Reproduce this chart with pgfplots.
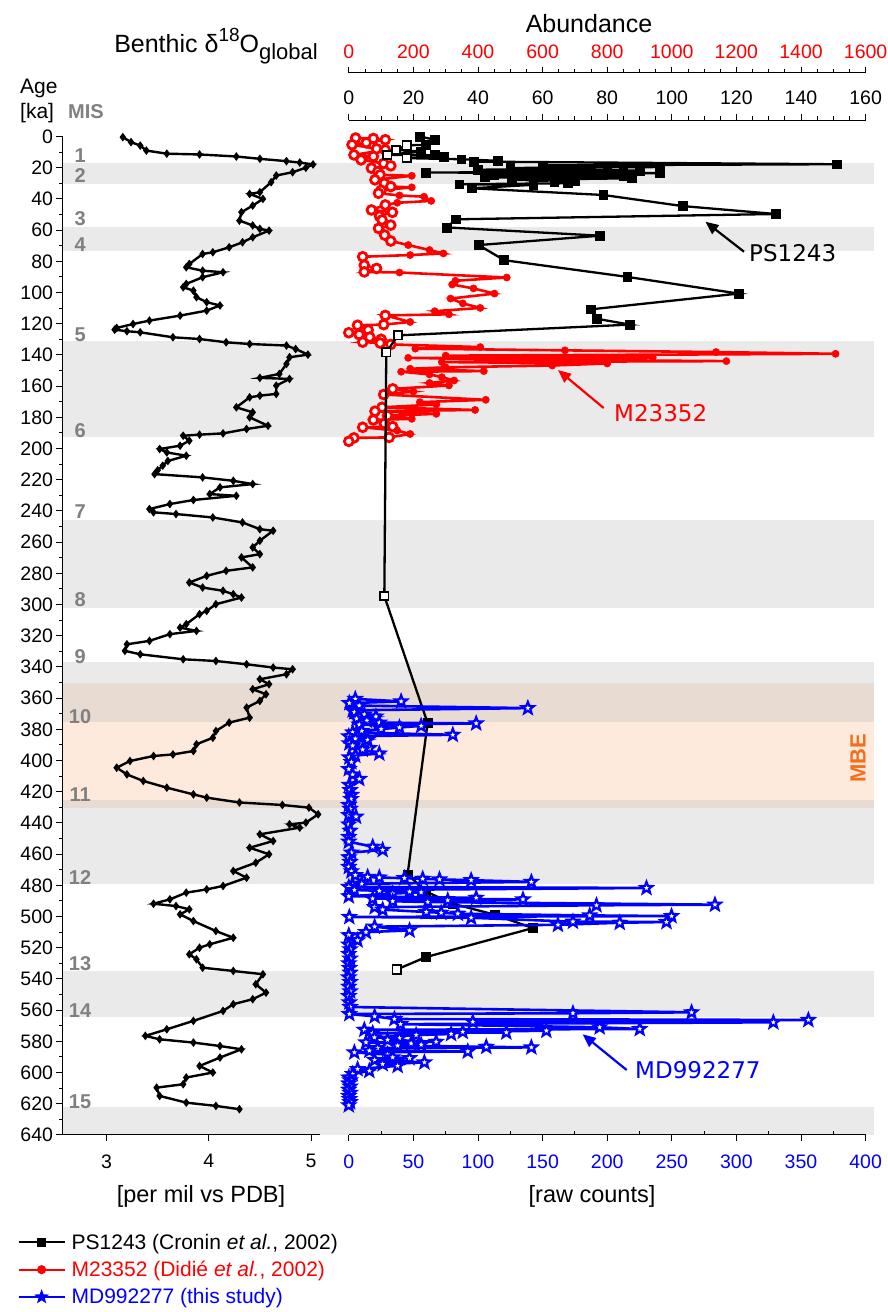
\documentclass[border=0pt]{standalone}
\usepackage{pgfplots}
\pgfplotsset{compat=1.18}
\usepackage{pgfplotstable}
\usepackage{fontspec}
\setmainfont{Liberation Sans}
\newfontfamily\verd{DejaVu Sans}
\usetikzlibrary{arrows.meta}

\definecolor{cred}{RGB}{255,0,0}
\definecolor{cblue}{RGB}{0,0,255}
\definecolor{misgray}{RGB}{128,128,128}
\definecolor{bandgray}{RGB}{234,234,234}
\definecolor{mbe}{RGB}{253,234,221}
\definecolor{mbegray}{RGB}{232,219,210}
\definecolor{mbetext}{RGB}{245,110,25}

\newcommand{\fs}[1]{\fontsize{#1}{#1}\selectfont}

% open five-pointed star
\newdimen\starin
\newdimen\starout
\pgfdeclareplotmark{ostar}{%
  \starout=\pgfplotmarksize
  \starin=0.42\pgfplotmarksize
  \pgfpathmoveto{\pgfpointpolar{90}{\starout}}%
  \pgfpathlineto{\pgfpointpolar{126}{\starin}}%
  \pgfpathlineto{\pgfpointpolar{162}{\starout}}%
  \pgfpathlineto{\pgfpointpolar{198}{\starin}}%
  \pgfpathlineto{\pgfpointpolar{234}{\starout}}%
  \pgfpathlineto{\pgfpointpolar{270}{\starin}}%
  \pgfpathlineto{\pgfpointpolar{306}{\starout}}%
  \pgfpathlineto{\pgfpointpolar{342}{\starin}}%
  \pgfpathlineto{\pgfpointpolar{18}{\starout}}%
  \pgfpathlineto{\pgfpointpolar{54}{\starin}}%
  \pgfpathclose
  \pgfusepathqfillstroke
}

% benthic d18O (LR04-type stack)
\pgfplotstableread{
age d
0.4 3.16
3.6 3.24
5.8 3.33
9.0 3.39
11.0 3.59
11.5 3.91
12.8 4.27
14.3 4.50
15.8 4.76
16.7 4.89
17.9 5.02
20.0 4.95
22.9 4.82
25.0 4.66
29.3 4.61
35.7 4.50
36.8 4.40
40.0 4.53
44.3 4.43
48.5 4.32
53.9 4.30
57.0 4.43
59.2 4.50
60.3 4.59
64.6 4.43
67.8 4.33
71.0 4.20
74.2 4.04
75.3 3.94
81.7 3.81
83.8 3.78
86.0 3.94
87.0 4.14
90.2 3.94
94.5 3.78
96.6 3.75
98.8 3.85
103.0 3.88
106.2 3.98
108.3 4.11
111.6 3.98
114.8 3.72
118.0 3.42
120.2 3.26
122.7 3.10
123.8 3.08
124.8 3.20
125.5 3.33
128.7 3.65
129.8 3.91
131.9 4.17
133.0 4.40
134.0 4.76
136.2 4.85
139.8 4.97
141.5 4.79
145.8 4.76
152.2 4.69
154.7 4.50
155.4 4.79
159.7 4.66
165.0 4.66
166.1 4.50
167.2 4.40
173.6 4.27
176.8 4.43
180.0 4.40
185.4 4.58
187.5 4.37
190.3 4.14
191.1 3.91
191.8 3.75
195.0 3.81
198.2 3.72
200.3 3.52
202.5 3.59
204.6 3.78
208.0 3.60
211.0 3.55
214.0 3.50
216.4 3.47
218.5 3.94
220.7 4.24
222.8 4.43
224.9 4.11
229.2 4.01
230.3 4.27
233.0 3.85
235.6 3.62
238.8 3.42
240.9 3.46
242.0 3.68
244.2 4.04
247.4 4.33
251.7 4.50
252.7 4.63
259.1 4.50
263.4 4.43
267.7 4.50
269.8 4.32
276.2 4.43
278.4 4.17
281.6 3.98
285.9 3.81
289.1 3.94
291.2 4.14
293.4 4.24
295.5 4.32
299.8 4.07
304.1 3.98
306.2 3.91
312.6 3.78
314.8 3.72
316.9 3.88
319.0 3.62
323.3 3.42
325.5 3.20
329.7 3.18
331.9 3.33
335.1 3.75
336.2 4.07
338.3 4.37
340.4 4.63
341.5 4.82
344.7 4.76
347.9 4.50
351.1 4.59
354.3 4.43
357.5 4.56
361.8 4.50
366.1 4.37
372.5 4.40
375.7 4.20
381.1 4.07
385.4 4.04
389.6 3.88
393.9 3.85
396.1 3.65
397.1 3.46
400.3 3.23
404.6 3.10
408.9 3.20
413.1 3.36
417.4 3.59
421.7 3.85
423.8 3.98
426.9 4.30
428.5 4.72
430.2 4.98
434.5 5.07
439.8 4.95
440.9 4.79
443.0 4.89
447.3 4.50
451.6 4.63
455.9 4.40
460.1 4.59
465.5 4.46
470.8 4.24
475.1 4.37
480.4 4.14
482.6 3.98
484.7 3.78
489.0 3.62
491.8 3.46
493.3 3.68
495.4 3.81
498.6 3.72
502.9 3.85
509.3 4.07
513.6 4.24
517.8 4.01
520.0 3.91
524.2 3.81
527.4 3.88
532.8 3.94
534.9 4.24
537.0 4.53
543.4 4.46
548.8 4.56
553.0 4.43
556.2 4.24
560.5 4.14
566.9 3.85
572.3 3.59
576.5 3.38
578.7 3.52
580.8 3.85
583.0 4.11
585.1 4.32
590.4 4.11
595.8 3.91
600.0 4.04
603.2 3.78
607.5 3.75
609.7 3.49
615.0 3.52
619.3 3.78
621.4 4.07
623.5 4.30
}\dO

% PS1243 (top black scale, 0-160); c: f filled, o open
\pgfplotstableread{
age v c
0.0 22.0 f
2.1 26.6 f
5.3 23.9 f
5.7 17.9 o
8.6 14.6 o
9.6 22.2 f
11.8 11.9 o
12.0 26.6 f
12.8 29.3 f
13.9 17.9 o
14.6 34.8 f
15.6 46.2 f
16.1 38.6 f
17.8 151.2 f
18.5 60 f
19.2 85 f
19.6 96.2 f
20.2 50 f
20.8 75 f
21.3 40 f
21.8 90 f
22.3 55 f
22.7 80 f
23.1 23.9 f
23.5 96.2 f
24.0 65 f
24.6 45 f
25.1 85 f
25.6 60 f
26.2 42 f
26.8 87.5 f
27.8 50.5 f
28.5 70 f
29.3 63.6 f
30.0 67.9 f
30.6 34.2 f
31.0 57.1 f
33.2 38.0 f
37.5 78.8 f
44.6 103.3 f
49.7 132.2 f
53.1 33.1 f
58.3 30.4 f
63.6 77.8 f
69.6 40.2 f
79.3 48.1 f
90.0 86.2 f
100.7 120.7 f
110.8 75.0 f
116.8 76.7 f
120.6 87.0 f
127.5 15.2 o
138.4 11.6 o
294.6 11.0 o
376.0 24.4 f
473.0 18.2 f
484.0 23.9 f
491.8 32.2 f
498.8 45.1 f
507.4 57.0 f
526.0 23.9 f
534.0 14.8 o
}\PS

% M23352 (top red scale, 0-1600)
\pgfplotstableread{
age v c
1.0 21 o
1.3 76 o
2.1 113 o
4.0 54 o
5.3 10 o
7.9 86 o
8.6 113 o
11.8 16 o
12.8 76 o
15.0 38 o
17.3 108 o
18.8 130 o
20.3 70 o
22.5 90 o
24.6 97 o
25.2 195 f
27.8 81 o
30.0 110 o
32.1 130 o
32.6 195 f
34.5 100 o
36.4 92 o
37.8 157 f
38.6 233 f
41.3 255 f
42.5 150 f
43.9 113 o
47.1 70 o
48.6 135 o
51.0 95 o
53.5 103 o
56.8 130 o
58.9 92 o
63.2 111 o
67.0 130 o
69.6 184 f
72.8 250 f
75.0 293 f
76.0 190 f
77.1 43 o
82.5 48 o
84.6 86 o
86.8 48 o
87.2 157 f
90.4 489 f
92.5 330 f
94.9 320 f
97.4 386 f
100.7 451 f
103.9 315 f
107.0 353 f
109.9 407 f
112.0 266 f
114.0 310 f
114.7 113 o
118.9 190 f
120.6 108 o
121.0 27 o
124.0 60 o
125.8 0 o
127.0 32 o
128.6 65 o
130.0 100 o
131.8 43 o
132.4 97 o
133.3 130 o
135.0 407 f
136.0 206 f
137.1 669 f
138.2 1137 f
139.3 1507 f
140.5 300 f
141.7 941 f
141.9 184 f
143.0 500 f
144.0 1169 f
144.6 288 f
145.5 800 f
146.8 630 f
148.0 300 f
148.9 190 f
150.4 418 f
150.8 162 f
152.5 250 f
154.3 288 f
156.4 326 f
158.0 250 f
159.6 310 f
161.8 136 o
163.5 200 f
165.4 108 o
168.8 424 f
170.3 220 f
171.8 271 f
173.6 103 o
175.3 391 f
176.1 81 o
177.8 271 f
179.0 120 o
181.0 195 f
181.7 76 o
184.0 110 o
186.0 136 o
186.4 43 o
188.5 150 f
190.7 190 f
192.9 125 o
193.2 16 o
195.4 0 o
}\MR

% MD992277 (bottom blue scale, raw counts)
\pgfplotstableread{
age v
360.5 5
362.1 40.5
363.2 0.4
364.8 8
366.4 138.6
367.8 3
369.0 4.3
370.5 12
371.8 21
373.2 6
374.5 14
375.7 23.6
376.2 98.6
377.0 8.1
377.8 56
378.8 39.2
379.9 25
381.0 10
382.0 3
383.5 80.5
384.5 0
386.0 5
386.8 14.6
389.0 0.4
390.5 3
392.0 15.9
393.0 10.7
395.5 23.6
396.8 5
398.0 0.4
401.0 2
405.5 0
409.0 3
411.8 8.1
415.6 0.4
419.0 1
422.0 2
424.7 1.7
428.5 0
431.0 1
435.0 0
436.0 5.6
441.0 0
445.0 1
449.0 0
452.0 0
455.3 18.5
457.3 26.2
459.0 2
462.0 0
465.0 1
468.2 0
471.0 2
473.5 5
474.6 14.6
475.0 23.6
475.4 43
475.8 57.2
476.2 70.2
476.7 94.7
477.8 141.3
479.0 10
480.0 3
481.0 0
481.7 230.4
483.0 4.3
483.5 23.6
484.0 47
484.5 56
485.3 34
487.0 0
488.0 98.6
488.5 18.5
489.0 134.8
489.6 76.6
490.2 34
490.7 61.1
492.4 283.4
492.8 191.7
494.0 20
495.6 26.2
497.1 59.9
497.6 71.5
498.2 84.4
499.3 186.5
499.7 249.8
500.3 0.4
500.8 94.7
503.3 173.5
503.5 245.9
504.0 209.7
505.3 161.9
506.5 20
508.9 47
510.0 13.3
512.0 0
515.3 6.8
518.0 0
521.0 1
524.0 0
527.0 1
530.0 0
533.0 0.5
536.0 1
539.0 0
542.0 1
545.0 0
548.0 1
551.0 0
555.0 0.4
558.0 1
561.4 265.3
562.0 173.5
562.5 0.4
564.0 20
565.7 35.3
566.3 355.7
567.5 96
567.8 328.6
569.0 40
571.0 194.2
572.1 225.2
572.6 12
573.2 152.9
573.9 88.2
574.3 121.9
574.8 18.5
575.3 79.2
576.0 52.1
577.5 19.8
577.9 39.2
579.0 30
580.3 67.6
580.7 13.3
581.4 48.2
582.2 56
582.8 37.8
583.5 106.4
583.9 141.3
584.3 22.3
586.0 15.9
586.5 92.1
587.1 4.3
588.5 30
590.3 34
590.8 47
592.0 20
593.5 58.5
594.6 26.2
595.7 37.8
597.8 6.8
598.9 15.9
601.0 3
603.2 0
605.0 1
607.0 0
609.0 1
611.0 0
613.0 1
615.0 0
617.0 0.5
619.0 1
621.0 0
}\MD

\pgfplotsset{
  common/.style={
    scale only axis, anchor=south west, y dir=reverse, ymax=640,
    tick align=outside, major tick length=6pt, minor tick length=3.5pt,
    every tick/.style={black, line width=0.9pt},
    axis line style={-, line width=0.9pt},
    every inner x axis line/.append style={-},
    every outer x axis line/.append style={-},
    every inner y axis line/.append style={-},
    every outer y axis line/.append style={-},
    tick label style={font=\fs{19.5}},
    /pgf/number format/assume math mode=true,
    /pgf/number format/1000 sep={},
  },
}
\tikzset{misl/.style={font=\bfseries\fs{20}, text=misgray}}

\begin{document}
\begin{tikzpicture}
\path[use as bounding box] (0pt,0pt) rectangle (887pt,-1312pt);

% ---------- left panel: benthic d18O ----------
\begin{axis}[common,
  at={(62.5pt,-1134.9pt)}, width=257.5pt, height=998.4pt,
  xmin=2.570, xmax=5.088, ymin=0,
  axis x line*=bottom, axis y line*=left,
  axis on top, clip=false,
  xtick={3,4,5}, ytick={0,20,...,640}, minor y tick num=1,
  xticklabel style={yshift=-10pt},
  legend style={at={(axis description cs:-0.175,-0.097)}, anchor=north west,
    draw=none, fill=none, font=\fs{21}, row sep=6.5pt, inner sep=0pt,
    cells={anchor=west}, /tikz/every odd column/.append style={column sep=4pt}},
  legend image code/.code={\draw[mark repeat=2, mark phase=2, #1]
    plot coordinates {(0pt,0pt) (23pt,0pt) (46pt,0pt)};},
]
% glacial stages
\fill[bandgray] (axis cs:2.575,17) rectangle (axis cs:10.51,30.3);
\fill[bandgray] (axis cs:2.575,58) rectangle (axis cs:10.51,73.6);
\fill[bandgray] (axis cs:2.575,131) rectangle (axis cs:10.51,192.8);
\fill[bandgray] (axis cs:2.575,245.9) rectangle (axis cs:10.51,302.4);
\fill[bandgray] (axis cs:2.575,337) rectangle (axis cs:10.51,376);
\fill[bandgray] (axis cs:2.575,425.6) rectangle (axis cs:10.51,479);
\fill[bandgray] (axis cs:2.575,534.6) rectangle (axis cs:10.51,564.6);
\fill[bandgray] (axis cs:2.575,622) rectangle (axis cs:10.51,640);
% MBE
\fill[mbe] (axis cs:2.575,375.6) rectangle (axis cs:10.51,425.6);
\fill[mbegray] (axis cs:2.575,350.4) rectangle (axis cs:10.51,375.6);
\fill[mbegray] (axis cs:2.575,425.6) rectangle (axis cs:10.51,430.5);

% marine isotope stages
\node[misl] at (axis cs:2.742,12.4) {1};
\node[misl] at (axis cs:2.742,25.3) {2};
\node[misl] at (axis cs:2.742,52.5) {3};
\node[misl] at (axis cs:2.742,69.6) {4};
\node[misl] at (axis cs:2.742,126.9) {5};
\node[misl] at (axis cs:2.742,188.6) {6};
\node[misl] at (axis cs:2.742,240.4) {7};
\node[misl] at (axis cs:2.742,296.7) {8};
\node[misl] at (axis cs:2.742,333.2) {9};
\node[misl] at (axis cs:2.742,371.7) {10};
\node[misl] at (axis cs:2.742,422.1) {11};
\node[misl] at (axis cs:2.742,475.3) {12};
\node[misl] at (axis cs:2.742,530.2) {13};
\node[misl] at (axis cs:2.742,560.2) {14};
\node[misl] at (axis cs:2.742,618.8) {15};

\addplot[black, line width=2.4pt, mark=diamond*, mark size=2.4pt, forget plot]
  table[x=d, y=age] {\dO};

\addlegendimage{black, line width=2pt, mark=square*, mark size=3.5pt}
\addlegendentry{PS1243 (Cronin \textit{et al.}, 2002)}
\addlegendimage{cred, line width=2pt, mark=*, mark size=3.5pt}
\addlegendentry{\textcolor{cred}{M23352 (Didié \textit{et al.}, 2002)}}
\addlegendimage{cblue, line width=2pt, mark=ostar, mark size=5pt, mark options={fill=cblue}}
\addlegendentry{\textcolor{cblue}{MD992277 (this study)}}
\end{axis}

% ---------- M23352, red top scale ----------
\begin{axis}[common,
  at={(348.8pt,-1134.9pt)}, width=516.8pt, height=1062.2pt,
  xmin=0, xmax=1600, ymin=-40.897,
  axis x line*=top, axis y line=none,
  xtick={0,200,...,1600}, minor x tick num=3,
  xticklabel style={text=cred, yshift=4pt},
]
\addplot[cred, line width=2.6pt, mark=*, scatter, scatter src=explicit symbolic,
  scatter/classes={
    f={mark=*, draw=cred, fill=cred, mark size=3.6pt, line width=0.5pt},
    o={mark=*, draw=cred, fill=white, mark size=4.4pt, line width=2.8pt}}]
  table[x=v, y=age, meta=c] {\MR};
\end{axis}

% ---------- PS1243, black top scale ----------
\begin{axis}[common,
  at={(348.8pt,-1134.9pt)}, width=516.8pt, height=1014.9pt,
  xmin=0, xmax=160, ymin=-10.577,
  axis x line*=top, axis y line=none,
  xtick={0,20,...,160}, minor x tick num=3,
  xticklabel style={yshift=6pt},
]
\addplot[black, line width=2.3pt, mark=square*, scatter, scatter src=explicit symbolic,
  scatter/classes={
    f={mark=square*, draw=black, fill=black, mark size=4.4pt, line width=0.6pt},
    o={mark=square*, draw=black, fill=white, mark size=4.2pt, line width=1.8pt}}]
  table[x=v, y=age, meta=c] {\PS};
\end{axis}

% ---------- MD992277, blue bottom scale ----------
\begin{axis}[common,
  at={(348.8pt,-1134.9pt)}, width=516.8pt, height=998.4pt,
  xmin=0, xmax=400, ymin=0,
  axis x line*=bottom, axis y line=none,
  xtick={0,50,...,400}, minor x tick num=1,
  minor x tick style={yshift=3.5pt},
  xticklabel style={text=cblue, yshift=-10pt},
]
\addplot[cblue, line width=2.6pt, mark=ostar, mark size=6.2pt,
  mark options={fill=white, draw=cblue, line width=2.2pt}]
  table[x=v, y=age] {\MD};
\end{axis}

% ---------- titles and annotations ----------
\node[font=\fs{25}] at (589pt,-23.5pt) {Abundance};
\node[anchor=base east, inner sep=0pt, font=\fs{25}] at (318pt,-52pt)
  {Benthic δ\raisebox{11pt}{\fs{19}18}O\raisebox{-7pt}{\fs{22}global}};
\node[anchor=base west, inner sep=0pt, font=\fs{21}] at (20pt,-93pt) {Age};
\node[anchor=base west, inner sep=0pt, font=\fs{21}] at (20pt,-118pt) {[ka]};
\node[anchor=base west, inner sep=0pt, misl] at (68pt,-118pt) {MIS};
\node[font=\fs{23.5}] at (201pt,-1196pt) {[per mil vs PDB]};
\node[font=\fs{23.5}] at (592pt,-1196pt) {[raw counts]};
\node[rotate=90, font=\bfseries\fs{22}, text=mbetext] at (858pt,-758pt) {MBE};

\draw[line width=2.2pt, -{Triangle[length=13pt,width=11pt]}] (744pt,-251.7pt) -- (705.4pt,-221.7pt);
\node[anchor=west, inner sep=0pt, font=\verd\fs{23}] at (749pt,-253pt) {PS1243};
\draw[cred, line width=2.2pt, -{Triangle[length=13pt,width=11pt]}] (603.7pt,-408pt) -- (558pt,-370pt);
\node[anchor=west, inner sep=0pt, font=\verd\fs{23}, text=cred] at (614pt,-413pt) {M23352};
\draw[cblue, line width=2.2pt, -{Triangle[length=13pt,width=11pt]}] (626.7pt,-1070pt) -- (582.7pt,-1034.3pt);
\node[anchor=west, inner sep=0pt, font=\verd\fs{23}, text=cblue] at (635pt,-1070pt) {MD992277};
\end{tikzpicture}
\end{document}
